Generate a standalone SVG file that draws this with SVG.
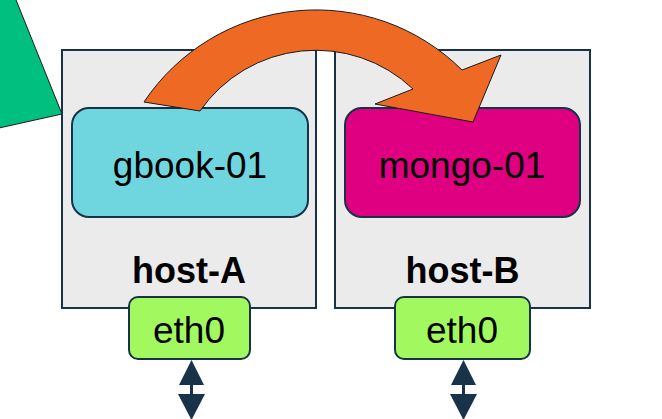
<svg xmlns="http://www.w3.org/2000/svg" width="662" height="419" viewBox="0 0 662 419">
<style>
.host{fill:#ebebeb;stroke:#173249;stroke-width:2}
.node{stroke:#173249;stroke-width:2}
.t{font-family:"Liberation Sans",Arial,sans-serif;font-size:37px;fill:#000;text-anchor:middle}
.b{font-weight:bold;font-size:36px}
.ar{fill:#173249;stroke:none}
</style>
<polygon points="10,-15 62,114 -10,130 -10,-15" fill="#00bf7f" stroke="#1a1a1a" stroke-width="1"/>
<g id="host-A">
<rect class="host" x="62" y="50" width="254" height="258"/>
<text class="t b" x="189" y="283">host-A</text>
</g>
<g id="host-B">
<rect class="host" x="335" y="50" width="255" height="258"/>
<text class="t b" x="462.5" y="283">host-B</text>
</g>
<g id="gbook-01">
<rect class="node" x="72" y="108" width="236" height="109" rx="17" fill="#6fd6e0"/>
<text class="t" x="190" y="178">gbook-01</text>
</g>
<g id="mongo-01">
<rect class="node" x="345" y="108" width="235" height="109" rx="17" fill="#de0080"/>
<text class="t" x="462" y="178">mongo-01</text>
</g>
<g id="eth0-A">
<rect class="node" x="129" y="297" width="121" height="62" rx="9" fill="#a2f95f"/>
<text class="t" x="189" y="343">eth0</text>
</g>
<g id="eth0-B">
<rect class="node" x="395" y="297" width="135" height="62" rx="9" fill="#a2f95f"/>
<text class="t" x="462" y="343">eth0</text>
</g>
<g id="connectors">
<path d="M144,102 A207,207 0 0 1 462,70 L501,55 L473,122 L375,104 L413,89 A141,141 0 0 0 200,111 Z" fill="#ee6a24" stroke="#1a1a1a" stroke-width="1"/>
<g>
<line x1="191.5" y1="380" x2="191.5" y2="398" stroke="#173249" stroke-width="3"/>
<polygon class="ar" points="191.5,360 204,385 179,385"/>
<polygon class="ar" points="178,394 205,394 191.5,420"/>
</g>
<g>
<line x1="463.5" y1="380" x2="463.5" y2="398" stroke="#173249" stroke-width="3"/>
<polygon class="ar" points="463.5,360 476,385 451,385"/>
<polygon class="ar" points="450,394 477,394 463.5,420"/>
</g>
</g>
</svg>
